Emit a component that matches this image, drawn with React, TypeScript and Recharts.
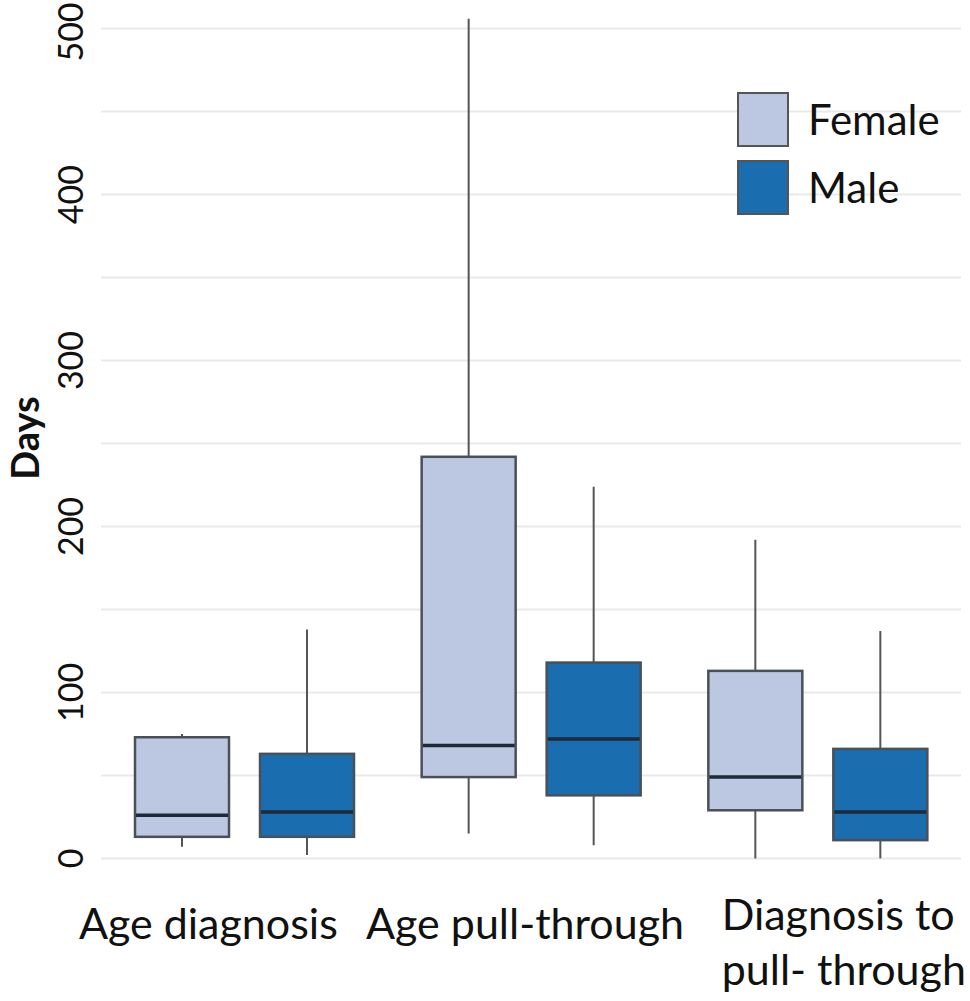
import { ComposedChart, Bar, XAxis, YAxis, CartesianGrid, Legend } from 'recharts';

const categories = ['Age diagnosis', 'Age pull-through', 'Diagnosis to\npull- through'];

const femaleMin = [7, 15, 0];
const femaleQ1 = [13, 49, 29];
const femaleMedian = [26, 68, 49];
const femaleQ3 = [73, 242, 113];
const femaleMax = [75, 506, 192];

const maleMin = [2, 8, 0];
const maleQ1 = [13, 38, 11];
const maleMedian = [28, 72, 28];
const maleQ3 = [63, 118, 66];
const maleMax = [138, 224, 137];

const yTicks = [0, 50, 100, 150, 200, 250, 300, 350, 400, 450, 500];

const data = categories.map((name, i) => ({
  name,
  female: { min: femaleMin[i], q1: femaleQ1[i], med: femaleMedian[i], q3: femaleQ3[i], max: femaleMax[i] },
  male: { min: maleMin[i], q1: maleQ1[i], med: maleMedian[i], q3: maleQ3[i], max: maleMax[i] },
}));

const FONT = 'Lato, "Open Sans", sans-serif';

// draws whisker + box + median inside the bar's [min, max] range
const BoxShape = (props: any) => {
  const { x, y, width, height, payload, group, fill } = props;
  const s = payload[group];
  const top = Math.min(y, y + height);
  const bot = Math.max(y, y + height);
  const span = s.max - s.min || 1;
  const py = (v: number) => bot - ((v - s.min) / span) * (bot - top);
  const cx = x + width / 2;
  return (
    <g>
      <line x1={cx} x2={cx} y1={py(s.max)} y2={py(s.min)} stroke="#555" strokeWidth={2} />
      <rect
        x={x}
        y={py(s.q3)}
        width={width}
        height={py(s.q1) - py(s.q3)}
        fill={fill}
        stroke="#4a5058"
        strokeWidth={2.5}
      />
      <line x1={x + 1} x2={x + width - 1} y1={py(s.med)} y2={py(s.med)} stroke="#1d2a3a" strokeWidth={3.5} />
    </g>
  );
};

const labelOffsets = [
  { dx: -36, anchor: 'middle' },
  { dx: -6, anchor: 'middle' },
  { dx: -96, anchor: 'start' },
];

const XTick = ({ x, payload, index }: any) => {
  const off = labelOffsets[index] || { dx: 0, anchor: 'middle' };
  const lines = String(payload.value).split('\n');
  return (
    <text x={x + off.dx} y={lines.length > 1 ? 930 : 939} textAnchor={off.anchor} fontFamily={FONT} fontSize={43} fill="#111">
      {lines.map((l, i) => (
        <tspan key={i} x={x + off.dx} dy={i === 0 ? 0 : 55}>
          {l}
        </tspan>
      ))}
    </text>
  );
};

const YTick = ({ y, payload }: any) => {
  if (payload.value % 100 !== 0) return null;
  const ty = Math.max(y, 32);
  return (
    <text
      x={83}
      y={ty}
      transform={`rotate(-90, 83, ${ty})`}
      textAnchor="middle"
      fontFamily={FONT}
      fontSize={34}
      fill="#111"
    >
      {payload.value}
    </text>
  );
};

const DaysLabel = () => {
  const cx = 39;
  const cy = 438;
  return (
    <text
      x={cx}
      y={cy}
      transform={`rotate(-90, ${cx}, ${cy})`}
      textAnchor="middle"
      fontFamily={FONT}
      fontWeight="bold"
      fontSize={38}
      fill="#111"
    >
      Days
    </text>
  );
};

const LegendContent = ({ payload }: any) => (
  <div style={{ fontFamily: FONT }}>
    {(payload || []).map((p: any) => (
      <div key={p.value} style={{ display: 'flex', alignItems: 'center', height: 54, marginBottom: 14 }}>
        <div
          style={{
            width: 48,
            height: 51,
            background: p.color,
            border: '2px solid #555',
            boxSizing: 'content-box',
            marginRight: 19,
          }}
        />
        <span style={{ fontSize: 42, color: '#111' }}>{p.value}</span>
      </div>
    ))}
  </div>
);

export default function App() {
  return (
    <div style={{ width: 970, height: 1001, background: '#fff' }}>
      <style>{`body{margin:0}`}</style>
      <ComposedChart
        width={970}
        height={1001}
        data={data}
        margin={{ top: 12, right: 9, left: 0, bottom: 0 }}
        barGap={31}
      >
        <CartesianGrid horizontal vertical={false} horizontalValues={yTicks} stroke="#e9e9e9" strokeWidth={2} />
        <XAxis dataKey="name" height={126} axisLine={false} tickLine={false} tick={<XTick />} interval={0} />
        <YAxis
          width={101}
          type="number"
          domain={[-10, 510]}
          allowDataOverflow
          ticks={yTicks}
          interval={0}
          axisLine={false}
          tickLine={false}
          tick={<YTick />}
          label={{ content: () => <DaysLabel /> }}
        />
        <Legend
          layout="horizontal"
          verticalAlign="middle"
          align="center"
          content={<LegendContent />}
          wrapperStyle={{ position: 'absolute', left: 737, top: 92, width: 230 }}
        />
        <Bar
          name="Female"
          dataKey={(d: any) => [d.female.min, d.female.max]}
          fill="#bcc7e1"
          barSize={94}
          isAnimationActive={false}
          shape={(p: any) => <BoxShape {...p} group="female" fill="#bcc7e1" />}
        />
        <Bar
          name="Male"
          dataKey={(d: any) => [d.male.min, d.male.max]}
          fill="#1a6eb0"
          barSize={94}
          isAnimationActive={false}
          shape={(p: any) => <BoxShape {...p} group="male" fill="#1a6eb0" />}
        />
      </ComposedChart>
    </div>
  );
}
